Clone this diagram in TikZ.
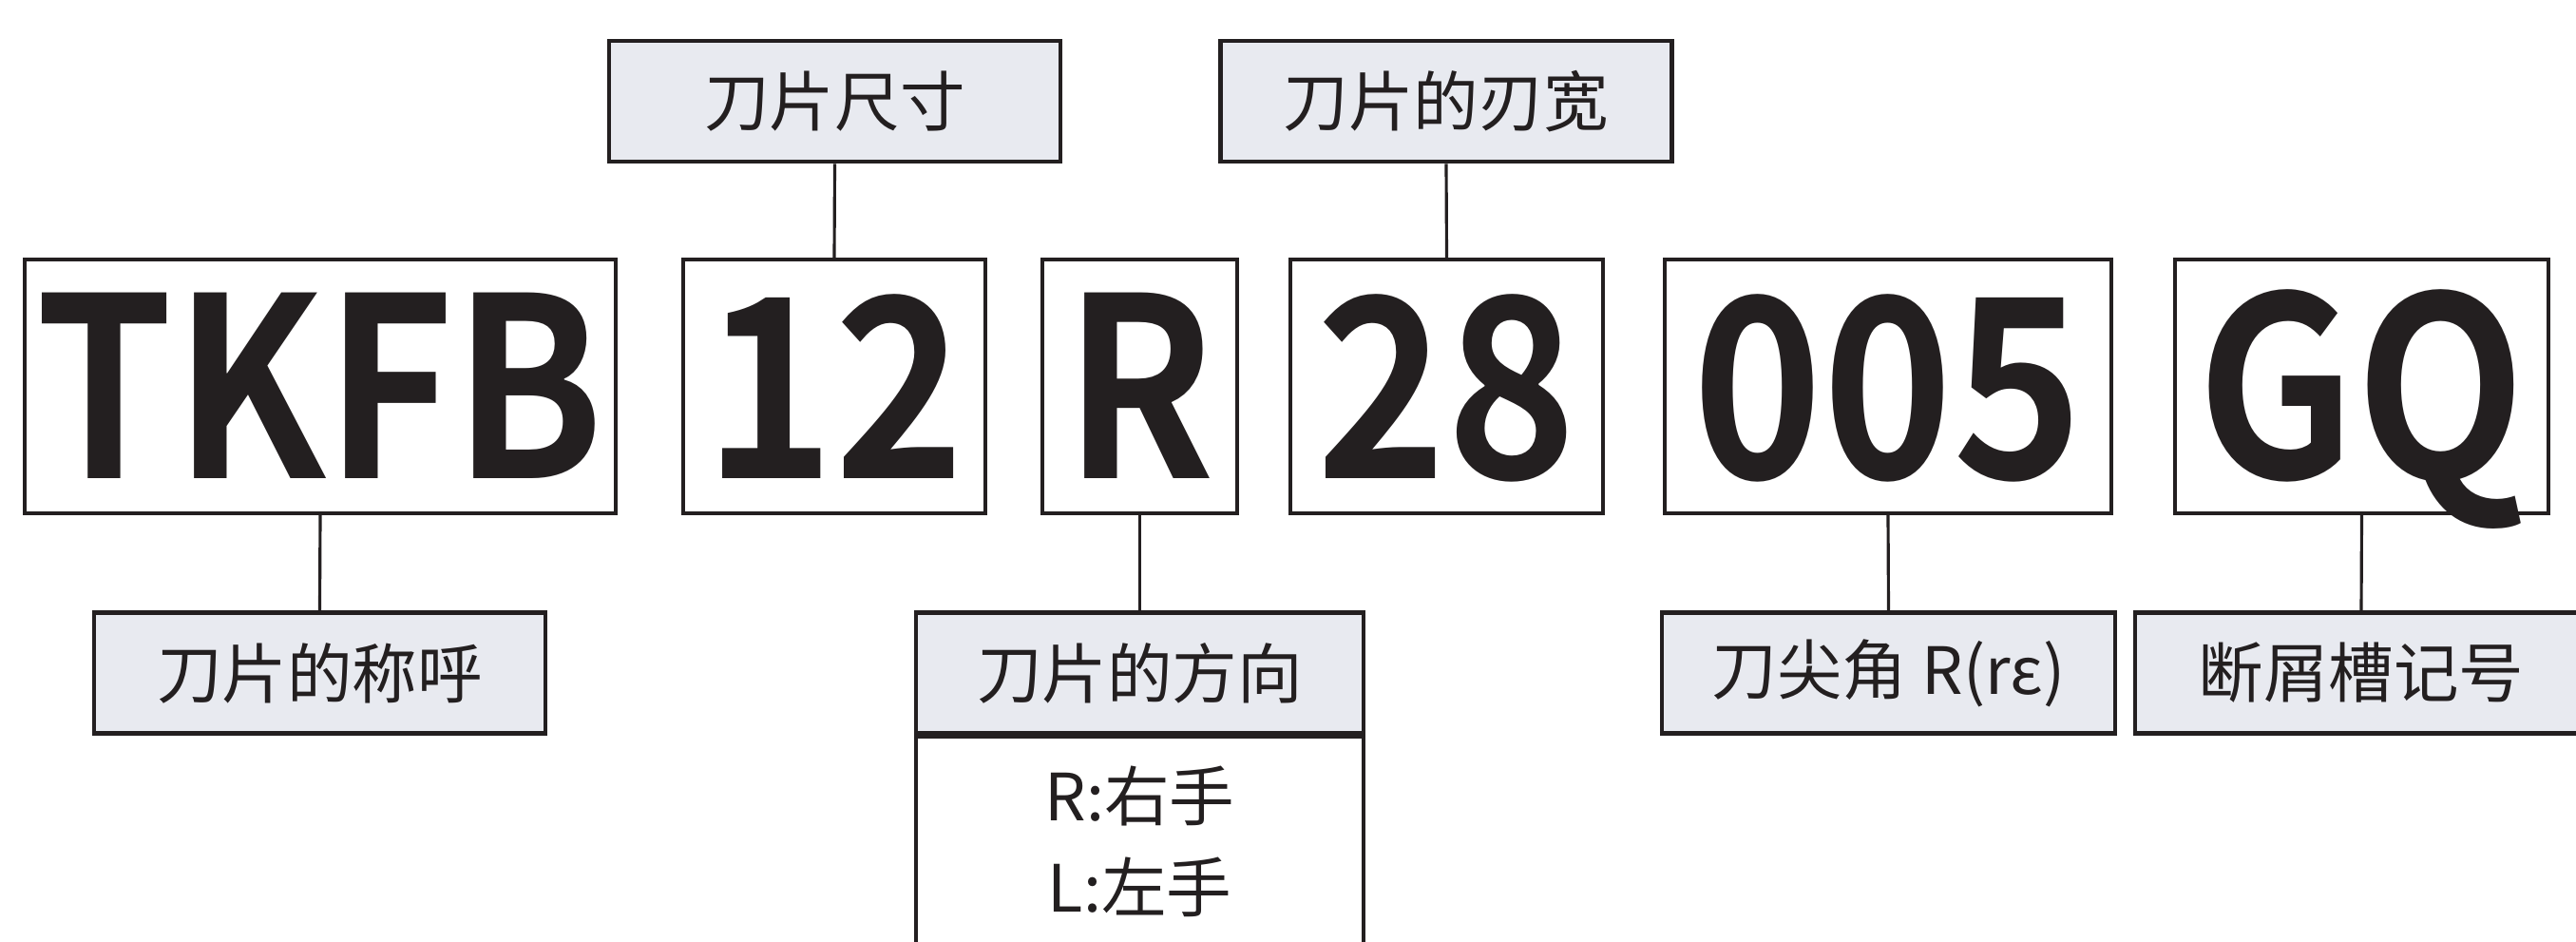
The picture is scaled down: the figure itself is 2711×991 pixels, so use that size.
\documentclass[tikz,border=0pt]{standalone}
\usepackage{fontspec}
\newfontfamily\cjk{Noto Sans CJK SC}
\newfontfamily\bigfont{Noto Sans CJK SC Bold}[FakeStretch=0.88]
\definecolor{ink}{RGB}{35,31,32}
\definecolor{lblfill}{RGB}{232,234,240}
\begin{document}
\begin{tikzpicture}[x=0.01cm,y=-0.01cm,
  code/.style={draw=ink,line width=1pt,inner sep=0pt,minimum height=2.67cm,
    text=ink,font=\bigfont\fontsize{75}{80}\selectfont,text height=54.9pt,text depth=0pt},
  lbl/.style={draw=ink,fill=lblfill,line width=1.3pt,inner sep=0pt,minimum width=4.75cm,minimum height=1.27cm,
    text=ink,font=\cjk\fontsize{19.5}{27.3}\selectfont},
  sub/.style={draw=ink,line width=1.3pt,inner sep=0pt,minimum width=4.71cm,
    text=ink,font=\cjk\fontsize{19.5}{27.3}\selectfont,align=center},
  conn/.style={draw=ink,line width=0.9pt}]
\useasboundingbox (0,0) rectangle (2711,991);
\fill[white] (0,0) rectangle (2711,991);
% code boxes
\node[code,minimum width=6.22cm] (tkfb) at (337,406.5) {TKFB};
\node[code,minimum width=3.18cm] (n12) at (878,406.5) {12};
\node[code,minimum width=2.05cm] (r) at (1199.5,406.5) {R};
\node[code,minimum width=3.29cm] (n28) at (1522.5,406.5) {28};
\node[code,minimum width=4.70cm] (n005) at (1987,406.5) {005};
\node[code,minimum width=3.93cm] (gq) at (2485.5,406.5) {GQ};
% top labels
\node[lbl] (size) at (878.5,106.5) {刀片尺寸};
\node[lbl] (width) at (1522,106.5) {刀片的刃宽};
% bottom labels
\node[lbl] (name) at (336.5,708) {刀片的称呼};
\node[sub,minimum height=2.22cm,anchor=north] (dirv) at (1199.5,772) {R:右手\\L:左手};
\node[lbl,minimum width=4.71cm] (dir) at (1199.5,708) {刀片的方向};
\node[lbl,minimum width=4.77cm] (nose) at (1987.5,708) {刀尖角 R(rε)};
\node[lbl,minimum width=4.76cm] (cb) at (2485,708) {断屑槽记号};
% connectors
\draw[conn] (size.south) -- (n12.north);
\draw[conn] (width.south) -- (n28.north);
\draw[conn] (tkfb.south) -- (name.north);
\draw[conn] (r.south) -- (dir.north);
\draw[conn] (n005.south) -- (nose.north);
\draw[conn] (gq.south) -- (cb.north);
\end{tikzpicture}
\end{document}
